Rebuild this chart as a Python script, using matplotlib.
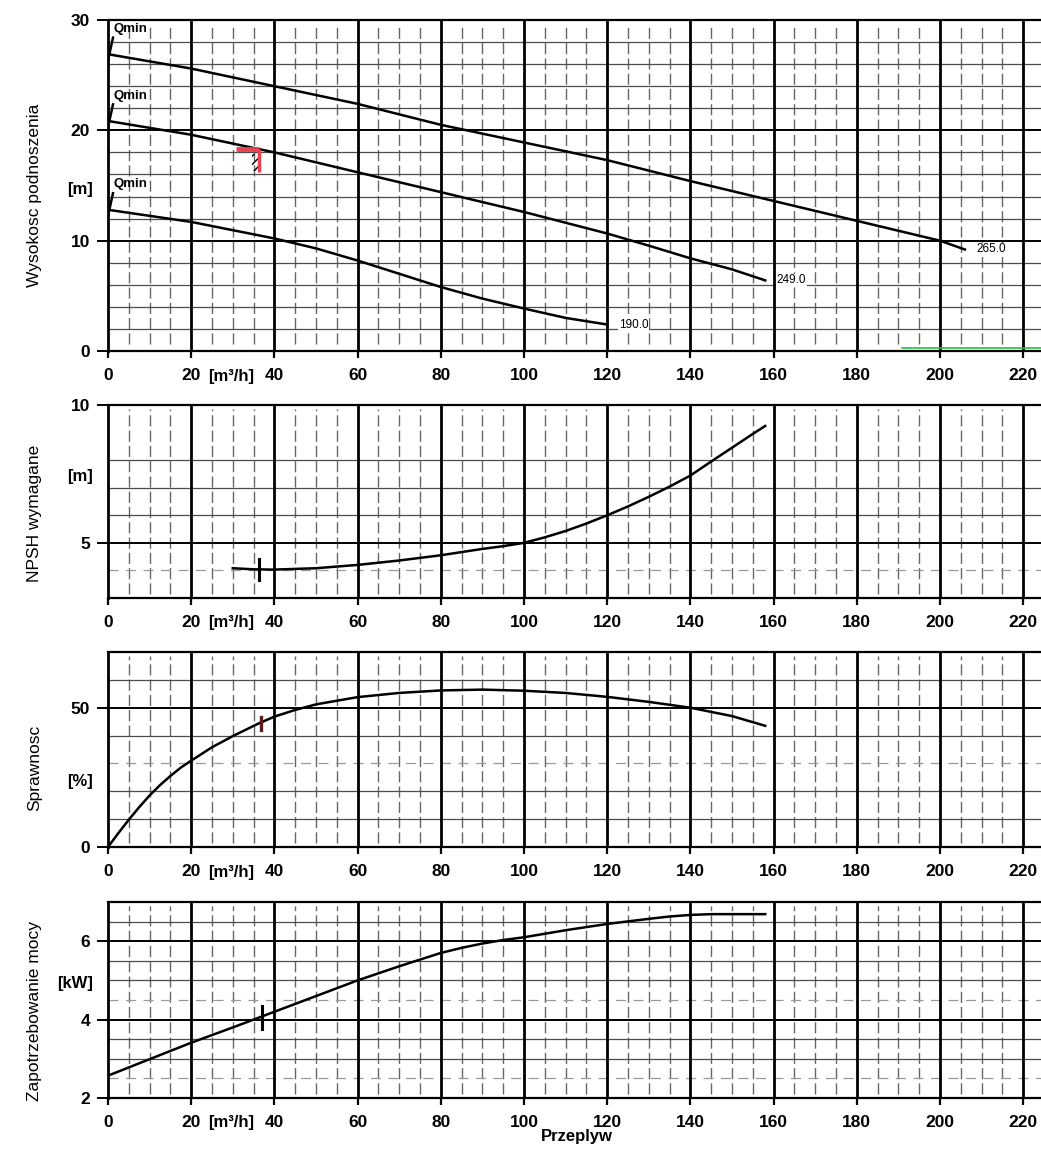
import numpy as np
import matplotlib
matplotlib.use('Agg')
import matplotlib.pyplot as plt
from matplotlib.patches import Rectangle

plt.rcParams['font.family'] = ['Liberation Sans', 'DejaVu Sans']

# head curves, impeller diameters 265 / 249 / 190
q_265 = [0, 20, 40, 60, 80, 100, 120, 140, 160, 180, 200, 206]
h_265 = [26.9, 25.6, 24.0, 22.4, 20.5, 18.9, 17.3, 15.4, 13.6, 11.8, 10.0, 9.2]
q_249 = [0, 20, 40, 60, 80, 100, 120, 130, 140, 150, 158]
h_249 = [20.85, 19.6, 18.0, 16.2, 14.4, 12.6, 10.65, 9.55, 8.4, 7.4, 6.4]
q_190 = [0, 20, 40, 50, 60, 70, 80, 90, 100, 110, 120]
h_190 = [12.8, 11.7, 10.2, 9.3, 8.2, 7.0, 5.8, 4.75, 3.85, 3.0, 2.4]
curve_names = ["265.0", "249.0", "190.0"]

# NPSH required
q_npsh = [30, 35, 40, 50, 60, 70, 80, 90, 95, 100, 105, 110, 115, 120, 125, 130, 135, 140, 145, 150, 155, 158]
npsh = [4.08, 4.04, 4.03, 4.08, 4.2, 4.36, 4.55, 4.78, 4.88, 5.0, 5.2, 5.43, 5.7, 6.0, 6.32, 6.67, 7.04, 7.44, 7.95, 8.45, 8.95, 9.24]

# efficiency
q_eta = [0, 2.5, 5, 7.5, 10, 12.5, 15, 17.5, 20, 25, 30, 36, 40, 45, 50, 60, 70, 80, 90, 100, 110, 120, 130, 140, 150, 158]
eta = [0, 5.0, 9.8, 14.3, 18.5, 22.2, 25.5, 28.5, 31, 35.8, 39.8, 44.2, 46.8, 49.2, 51.2, 53.8, 55.3, 56.2, 56.5, 56.1, 55.3, 53.9, 52.1, 50, 47, 43.5]

# power demand
q_pow = [0, 10, 20, 30, 40, 50, 60, 70, 75, 80, 85, 90, 95, 100, 110, 120, 130, 135, 140, 145, 158]
power = [2.57, 2.99, 3.41, 3.8, 4.2, 4.6, 5.0, 5.36, 5.53, 5.7, 5.83, 5.94, 6.03, 6.1, 6.28, 6.44, 6.57, 6.63, 6.67, 6.69, 6.69]

duty_q = 36.3
x_ticks = list(range(0, 221, 20))

fig = plt.figure(figsize=(10.41, 11.56), dpi=100)
W, H = 1041, 1156
left = 108 / W
XMAX = 224.3


def make_axes(top_px, bot_px, ylim, major_y, minor_y, dashed_y, labels, unit, unit_y, title, title_px):
    ax = fig.add_axes([left, 1 - bot_px / H, 1 - left, (bot_px - top_px) / H])
    ax.set_xlim(0, XMAX)
    ax.set_ylim(*ylim)
    for v in range(5, 225, 5):
        if v % 20:
            ax.axvline(v, color='0.4', lw=1.0, ls=(0, (8, 3)), ymin=0.02, ymax=0.98, zorder=1)
    for v in x_ticks[1:]:
        ax.axvline(v, color='black', lw=2.0, zorder=2)
    for v in minor_y:
        ax.axhline(v, color='0.3', lw=0.9, zorder=1)
    for v in dashed_y:
        ax.axhline(v, color='0.6', lw=0.9, ls=(0, (8, 6)), zorder=1)
    for v in major_y:
        ax.axhline(v, color='black', lw=1.4, zorder=2)
    ax.spines['right'].set_visible(False)
    ax.spines['left'].set_linewidth(2.0)
    ax.spines['bottom'].set_linewidth(1.6)
    ax.spines['top'].set_linewidth(1.6)
    ax.set_xticks(x_ticks)
    ax.set_xticklabels([str(t) for t in x_ticks], fontsize=12.5, fontweight='bold')
    ax.set_yticks(labels)
    ax.set_yticklabels([str(t) for t in labels], fontsize=12.5, fontweight='bold')
    ax.tick_params(axis='x', direction='out', length=5, width=1.6, pad=7)
    ax.tick_params(axis='y', direction='out', length=8, width=1.4, pad=5)
    ax.text(-0.016, unit_y, unit, transform=ax.get_yaxis_transform(),
            ha='right', va='center', fontsize=12, fontweight='bold')
    ax.annotate('[m³/h]', xy=(29.5, 0), xycoords=('data', 'axes fraction'),
                xytext=(0, -18), textcoords='offset points',
                ha='center', va='center', fontsize=12, fontweight='bold')
    fig.text(35 / W, 1 - title_px / H, title, rotation=90, ha='center', va='center', fontsize=12.5)
    return ax


ax1 = make_axes(20, 351, (0, 30), [10, 20], [2, 4, 6, 8, 12, 14, 16, 18, 22, 24, 26, 28], [],
                [0, 10, 20, 30], '[m]', 14.6, 'Wysokosc podnoszenia', 195)
ax2 = make_axes(405, 598, (3, 10), [5], [6, 7, 8], [4],
                [5, 10], '[m]', 7.4, 'NPSH wymagane', 513)
ax3 = make_axes(652, 847, (0, 70), [50], [10, 20, 40, 60], [30],
                [0, 50], '[%]', 23.5, 'Sprawnosc', 768)
ax4 = make_axes(902, 1098, (2, 7), [4, 6], [3, 3.5, 5, 5.5, 6.5], [2.5, 4.5],
                [2, 4, 6], '[kW]', 4.92, 'Zapotrzebowanie mocy', 1011)

# head curves with Qmin marks and diameter labels
for q, h, name in zip([q_265, q_249, q_190], [h_265, h_249, h_190], curve_names):
    ax1.plot(q, h, color='black', lw=1.8, zorder=4)
    ax1.plot([q[0] - 0.2, q[0] + 1.2], [h[0] - 0.9, h[0] + 1.5], color='black', lw=1.8, zorder=4)
    ax1.text(q[0] + 1.3, h[0] + 2.3, 'Qmin', fontsize=9.5, fontweight='bold', ha='left', va='center', zorder=5)
    ax1.text(q[-1] + 2.8, h[-1], name, fontsize=8.5, ha='left', va='center', zorder=5,
             bbox=dict(facecolor='white', edgecolor='none', pad=0.5))

# duty point marker on the head curve
duty_h = float(np.interp(duty_q, q_249, h_249))
ax1.add_patch(Rectangle((duty_q - 1.6, duty_h - 2.0), 1.6, 1.6, facecolor='none',
                        edgecolor='black', hatch='////', lw=0, zorder=5))
ax1.plot([duty_q - 5.5, duty_q], [duty_h, duty_h], color='#e8424f', lw=3.5, zorder=6, solid_capstyle='butt')
ax1.plot([duty_q, duty_q], [duty_h, duty_h - 2.1], color='#e8424f', lw=2.5, zorder=6, solid_capstyle='butt')
ax1.plot([191, XMAX], [0.3, 0.3], color='#2db84a', lw=1.2, zorder=5)

ax2.plot(q_npsh, npsh, color='black', lw=1.8, zorder=4)
y = float(np.interp(duty_q, q_npsh, npsh))
ax2.plot([duty_q, duty_q], [y - 0.38, y + 0.38], color='black', lw=2.2, zorder=5)

ax3.plot(q_eta, eta, color='black', lw=1.8, zorder=4)
y = float(np.interp(duty_q, q_eta, eta))
ax3.plot([duty_q + 0.4, duty_q + 0.4], [y - 2.4, y + 2.4], color='#5a1a1a', lw=2.4, zorder=5)

ax4.plot(q_pow, power, color='black', lw=1.8, zorder=4)
y = float(np.interp(duty_q, q_pow, power))
ax4.plot([duty_q + 0.8, duty_q + 0.8], [y - 0.3, y + 0.3], color='black', lw=2.2, zorder=5)

fig.text(577 / W, 1 - 1136 / H, 'Przeplyw', ha='center', va='center', fontsize=12, fontweight='bold')

fig.savefig('out.png', dpi=100)
